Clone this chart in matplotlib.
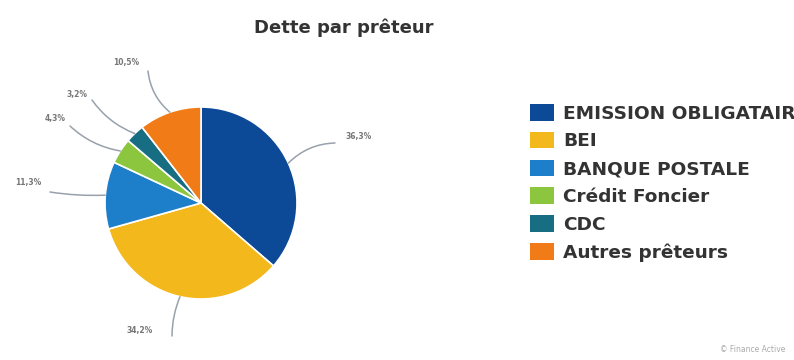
import matplotlib
matplotlib.use("Agg")
import matplotlib.pyplot as plt
import numpy as np

# Données
preteurs = ["EMISSION OBLIGATAIRE", "BEI", "BANQUE POSTALE",
            "Crédit Foncier", "CDC", "Autres prêteurs"]
parts = [36.3, 34.2, 11.3, 4.3, 3.2, 10.5]
etiquettes = ["36,3%", "34,2%", "11,3%", "4,3%", "3,2%", "10,5%"]
couleurs = ["#0c4a97", "#f3b81c", "#1d7ec9", "#8cc63e", "#176e82", "#f17c17"]

# Mise en page (pixels, y depuis le haut) : centre du texte et départ de la ligne
pos_etiquettes = [(359, 137), (140, 331), (28, 183), (55, 119), (77, 94), (126, 62)]
depart_lignes = [(335, 143), (172, 336), (50, 192), (70, 126), (92, 100), (148, 71)]
courbure = [0.2, -0.1, 0.05, 0.15, 0.15, 0.2]

W, H = 794, 360
fig = plt.figure(figsize=(W / 100, H / 100), dpi=100)
ax = fig.add_axes([0, 0, 1, 1])

cx, cy, r = 201, H - 203, 96
wedges, _ = ax.pie(parts, colors=couleurs, startangle=90, counterclock=False,
                   center=(cx, cy), radius=r, frame=True,
                   wedgeprops=dict(edgecolor="white", linewidth=1.2))
ax.set_xlim(0, W)
ax.set_ylim(0, H)
ax.axis("off")

# Étiquettes et lignes de rappel
for w, txt, (lx, ly), (sx, sy), rad, c in zip(wedges, etiquettes, pos_etiquettes,
                                              depart_lignes, courbure, couleurs):
    ang = np.deg2rad((w.theta1 + w.theta2) / 2)
    ex, ey = cx + r * np.cos(ang), cy + r * np.sin(ang)
    ax.text(lx, H - ly, txt, fontsize=5.5, fontweight="bold", color="#777777",
            ha="center", va="center")
    ax.annotate("", xy=(ex, ey), xytext=(sx, H - sy),
                arrowprops=dict(arrowstyle="-", color="#7f8a96", alpha=0.8, lw=1.1,
                                shrinkA=0, shrinkB=0,
                                connectionstyle=f"arc3,rad={rad}"))

ax.text(344, H - 28, "Dette par prêteur", fontsize=13, fontweight="bold",
        color="#333333", ha="center", va="center")

# Légende : coupée à droite comme dans l'original
leg = ax.legend(wedges, preteurs, loc="upper left", bbox_to_anchor=(530, H - 104),
                bbox_transform=ax.transData, frameon=False, borderpad=0,
                borderaxespad=0, handlelength=1.28, handleheight=1.0,
                handletextpad=0.5, labelspacing=0.5,
                prop=dict(weight="bold", size=13.3))
for t in leg.get_texts():
    t.set_color("#333333")
for h in leg.legend_handles:
    h.set_edgecolor("none")

ax.text(785, H - 350, "© Finance Active", fontsize=5.5, color="#aaaaaa",
        ha="right", va="center")

fig.savefig("out.png", dpi=100)
